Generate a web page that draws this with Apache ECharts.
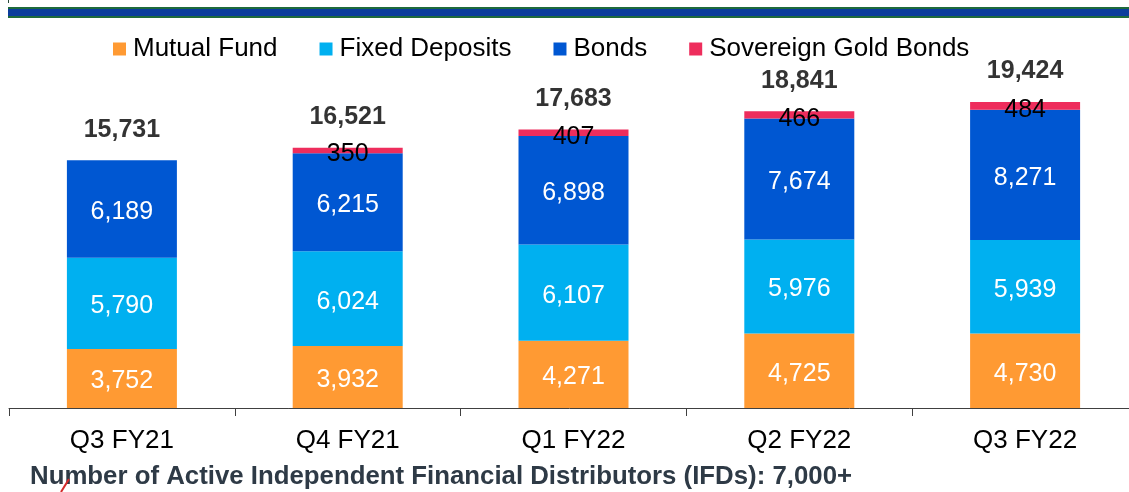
<!DOCTYPE html>
<html>
<head>
<meta charset="utf-8">
<script src="https://cdn.jsdelivr.net/npm/echarts@6/dist/echarts.min.js"></script>
<style>
  html, body { margin: 0; padding: 0; background: #ffffff; }
  #chart { width: 1129px; height: 492px; }
</style>
</head>
<body>
<div id="chart"></div>
<script>
// Quarterly distribution book by product (stacked)
const quarters = ['Q3 FY21', 'Q4 FY21', 'Q1 FY22', 'Q2 FY22', 'Q3 FY22'];
const mutualFund = [3752, 3932, 4271, 4725, 4730];
const fixedDeposits = [5790, 6024, 6107, 5976, 5939];
const bonds = [6189, 6215, 6898, 7674, 8271];
const goldBonds = [0, 350, 407, 466, 484];
const totals = [15731, 16521, 17683, 18841, 19424];
const footnote = 'Number of Active Independent Financial Distributors (IFDs): 7,000+';

const FONT = '"Liberation Sans", Arial, sans-serif';
const fmt = v => v.toLocaleString('en-US');

const chart = echarts.init(document.getElementById('chart'), null, { renderer: 'canvas' });

function stackSeries(name, data, color, labelColor, dy) {
  return {
    name: name,
    type: 'bar',
    stack: 'book',
    data: data,
    barWidth: 110,
    itemStyle: { color: color },
    label: {
      show: true,
      position: 'inside',
      offset: [0, dy],
      color: labelColor,
      fontFamily: FONT,
      fontSize: 25,
      formatter: p => (p.value ? fmt(p.value) : '')
    },
    emphasis: { disabled: true }
  };
}

chart.setOption({
  animation: false,
  backgroundColor: '#ffffff',
  textStyle: { fontFamily: FONT },
  legend: {
    data: ['Mutual Fund', 'Fixed Deposits', 'Bonds', 'Sovereign Gold Bonds'],
    left: 108,
    top: 31,
    itemWidth: 13,
    itemHeight: 13,
    itemGap: 42,
    icon: 'rect',
    textStyle: { fontFamily: FONT, fontSize: 26, color: '#000000', padding: [0, 0, 0, 2] }
  },
  // the plot area runs slightly past the right edge of the canvas
  grid: { left: 9, width: 1129, top: 93, bottom: 84, containLabel: false, outerBoundsMode: 'none' },
  xAxis: {
    type: 'category',
    data: quarters,
    boundaryGap: true,
    axisLine: { lineStyle: { color: '#404040', width: 1 } },
    axisTick: { show: true, length: 8, lineStyle: { color: '#404040' } },
    axisLabel: { fontFamily: FONT, fontSize: 26, color: '#000000', margin: 20 }
  },
  yAxis: {
    type: 'value',
    min: 0,
    max: 20000,
    show: false,
    splitLine: { show: false }
  },
  series: [
    stackSeries('Mutual Fund', mutualFund, '#FF9A33', '#ffffff', 3),
    stackSeries('Fixed Deposits', fixedDeposits, '#00B0F0', '#ffffff', 3),
    stackSeries('Bonds', bonds, '#0057D2', '#ffffff', 3),
    stackSeries('Sovereign Gold Bonds', goldBonds, '#EE2D5C', '#000000', 4),
    {
      name: 'Total',
      type: 'scatter',
      data: totals,
      symbolSize: 0,
      silent: true,
      label: {
        show: true,
        position: 'top',
        distance: 18,
        color: '#000000',
        fontFamily: FONT,
        fontWeight: 'bold',
        fontSize: 25,
        formatter: p => fmt(p.value)
      }
    }
  ],
  graphic: [
    { type: 'rect', shape: { x: 8, y: 7, width: 1121, height: 11 }, style: { fill: '#1E6A3C' }, silent: true },
    { type: 'rect', shape: { x: 8, y: 9, width: 1121, height: 7 }, style: { fill: '#0B3D9C' }, silent: true },
    { type: 'line', shape: { x1: 8.5, y1: 0, x2: 8.5, y2: 3 }, style: { stroke: '#2a4a3a', lineWidth: 1 }, silent: true },
    {
      type: 'text',
      left: 30,
      top: 464,
      style: { text: footnote, fontFamily: FONT, fontWeight: 'bold', fontSize: 25.8, fill: '#2E3A46' },
      silent: true
    },
    { type: 'line', shape: { x1: 69, y1: 479, x2: 61, y2: 492 }, style: { stroke: '#D42A2A', lineWidth: 2 }, silent: true }
  ]
});
</script>
</body>
</html>
